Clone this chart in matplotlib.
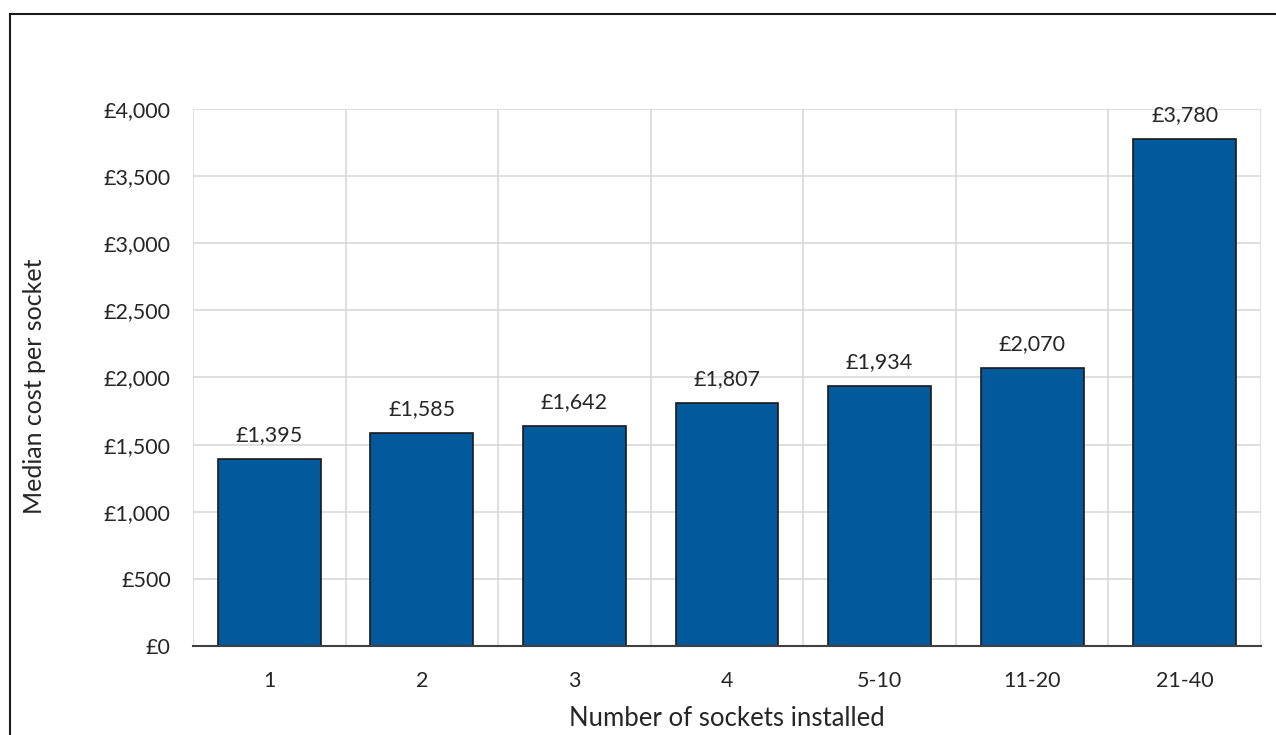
import matplotlib.pyplot as plt
import numpy as np
from matplotlib.ticker import FuncFormatter

categories = ['1', '2', '3', '4', '5-10', '11-20', '21-40']
costs = [1395, 1585, 1642, 1807, 1934, 2070, 3780]
yticks = [0, 500, 1000, 1500, 2000, 2500, 3000, 3500, 4000]

plt.rcParams['font.family'] = ['Lato', 'DejaVu Sans']

fig = plt.figure(figsize=(12.76, 7.35), dpi=100)
ax = fig.add_axes([0.1513, 0.1211, 0.9882 - 0.1513, 0.8517 - 0.1211])

x = np.arange(len(categories))
bars = ax.bar(x, costs, width=0.675, color='#02599C', edgecolor='#1a1a1a', linewidth=1.2, zorder=3)

for b, v in zip(bars, costs):
    ax.annotate('£{:,}'.format(v), (b.get_x() + b.get_width() / 2, v),
                xytext=(0, 10), textcoords='offset points',
                ha='center', va='bottom', fontsize=15.5, color='#262626')

ax.set_xlim(-0.5, len(categories) - 0.5)
ax.set_ylim(0, 4000)
ax.set_yticks(yticks)
ax.yaxis.set_major_formatter(FuncFormatter(lambda v, p: '£{:,.0f}'.format(v)))
ax.set_xticks(x)
ax.set_xticklabels(categories)
ax.set_xticks(np.arange(-0.5, len(categories)), minor=True)

ax.grid(axis='y', color='#d9d9d9', linewidth=1.2, zorder=0)
ax.grid(axis='x', which='minor', color='#d9d9d9', linewidth=1.2, zorder=0)
ax.tick_params(axis='both', which='both', length=0, labelsize=15.5, labelcolor='#262626')
ax.tick_params(axis='y', pad=16)
ax.tick_params(axis='x', pad=18)

for s in ['top', 'right', 'left']:
    ax.spines[s].set_visible(False)
ax.spines['bottom'].set_color('#404040')
ax.spines['bottom'].set_linewidth(1.5)
ax.spines['bottom'].set_zorder(4)

ax.set_ylabel('Median cost per socket', fontsize=18, color='#262626')
ax.set_xlabel('Number of sockets installed', fontsize=18.5, color='#262626')
ax.xaxis.label.set_verticalalignment('center')
ax.yaxis.label.set_verticalalignment('center')
ax.xaxis.set_label_coords(0.5 * (193 + 1261) / 1276, 1 - 718 / 735, transform=fig.transFigure)
ax.yaxis.set_label_coords(35 / 1276, 1 - 386 / 735, transform=fig.transFigure)

# outer chart border (cropped on the right and bottom)
fig.add_artist(plt.Line2D([10 / 1276, 1.0], [1 - 14 / 735, 1 - 14 / 735], color='#1a1a1a', linewidth=1.5))
fig.add_artist(plt.Line2D([10 / 1276, 10 / 1276], [0.0, 1 - 14 / 735], color='#1a1a1a', linewidth=1.5))

fig.savefig('out.png', dpi=100)
